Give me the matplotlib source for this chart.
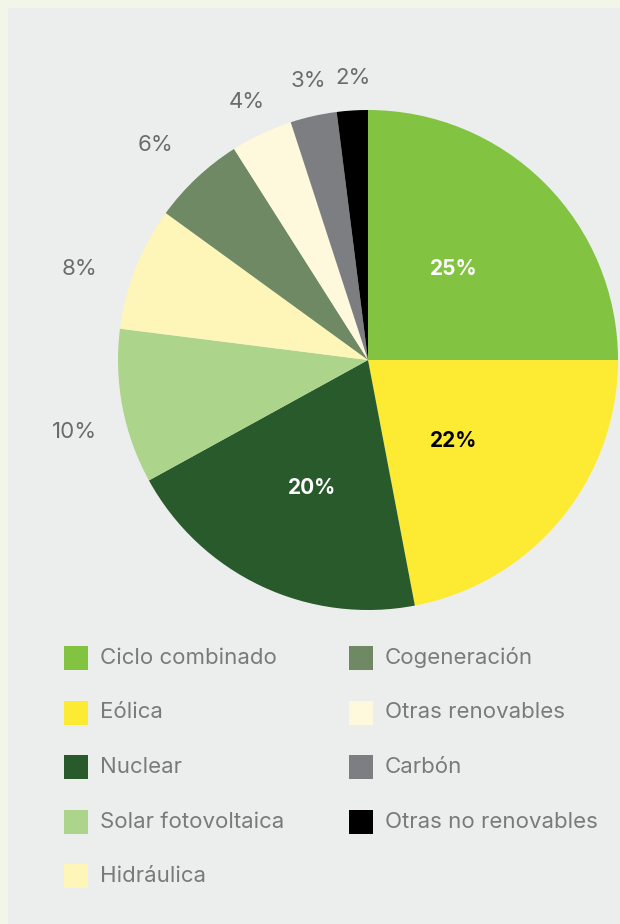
import numpy as np
import matplotlib
matplotlib.use('Agg')
import matplotlib.pyplot as plt
from matplotlib.patches import Rectangle

plt.rcParams['font.family'] = ['Inter', 'DejaVu Sans']

labels = ['Ciclo combinado', 'Eólica', 'Nuclear', 'Solar fotovoltaica', 'Hidráulica',
          'Cogeneración', 'Otras renovables', 'Carbón', 'Otras no renovables']
values = [25, 22, 20, 10, 8, 6, 4, 3, 2]
colors = ['#82c341', '#fcea33', '#295a2b', '#acd48a', '#fdf6b8',
          '#6e8963', '#fef8dc', '#7d7e82', '#000000']
inside_colors = ['white', 'black', 'white']

# label placement tweaks (radius as fraction of pie radius, angle nudge in degrees)
label_radius = [0.5, 0.47, 0.56, 1.21, 1.21, 1.21, 1.14, 1.14, 1.13]
label_nudge = [2, -4, 1.5, 3, 4, 1.5, 0, -0.5, -0.5]

W, H = 620, 924
fig = plt.figure(figsize=(W / 100, H / 100), dpi=100)
fig.patch.set_facecolor('#f1f6e8')

# grey panel
bg = fig.add_axes([0, 0, 1, 1])
bg.set_xlim(0, W)
bg.set_ylim(H, 0)
bg.axis('off')
bg.add_patch(Rectangle((8, 8), W - 8, H - 8, facecolor='#eceeed', edgecolor='none'))

# pie, centre (368, 360), radius 250 px
cx, cy, r = 368, 360, 250
ax = fig.add_axes([(cx - r) / W, 1 - (cy + r) / H, 2 * r / W, 2 * r / H])
wedges, _ = ax.pie(values, colors=colors, startangle=90, counterclock=False,
                   radius=1, wedgeprops=dict(linewidth=0))
ax.set_xlim(-1, 1)
ax.set_ylim(-1, 1)
ax.set_aspect('equal')
ax.axis('off')

for i, (w, v) in enumerate(zip(wedges, values)):
    ang = np.deg2rad((w.theta1 + w.theta2) / 2 + label_nudge[i])
    d = label_radius[i]
    if i < 3:
        ax.text(d * np.cos(ang), d * np.sin(ang), f'{v}%', ha='center', va='center',
                fontsize=15, fontweight='bold', color=inside_colors[i])
    else:
        ax.text(d * np.cos(ang), d * np.sin(ang), f'{v}%', ha='center', va='center',
                fontsize=16, color='#6b6b6b')

# legend, two columns
for i, (lab, col) in enumerate(zip(labels, colors)):
    c, rw = divmod(i, 5)
    x0 = 64 + c * 285
    y0 = 658 + rw * 54.5
    bg.add_patch(Rectangle((x0, y0 - 12), 24, 24, facecolor=col, edgecolor='none'))
    bg.text(x0 + 36, y0, lab, ha='left', va='center', fontsize=16, color='#7a7a7a')

plt.savefig('out.png', dpi=100, facecolor=fig.get_facecolor())
